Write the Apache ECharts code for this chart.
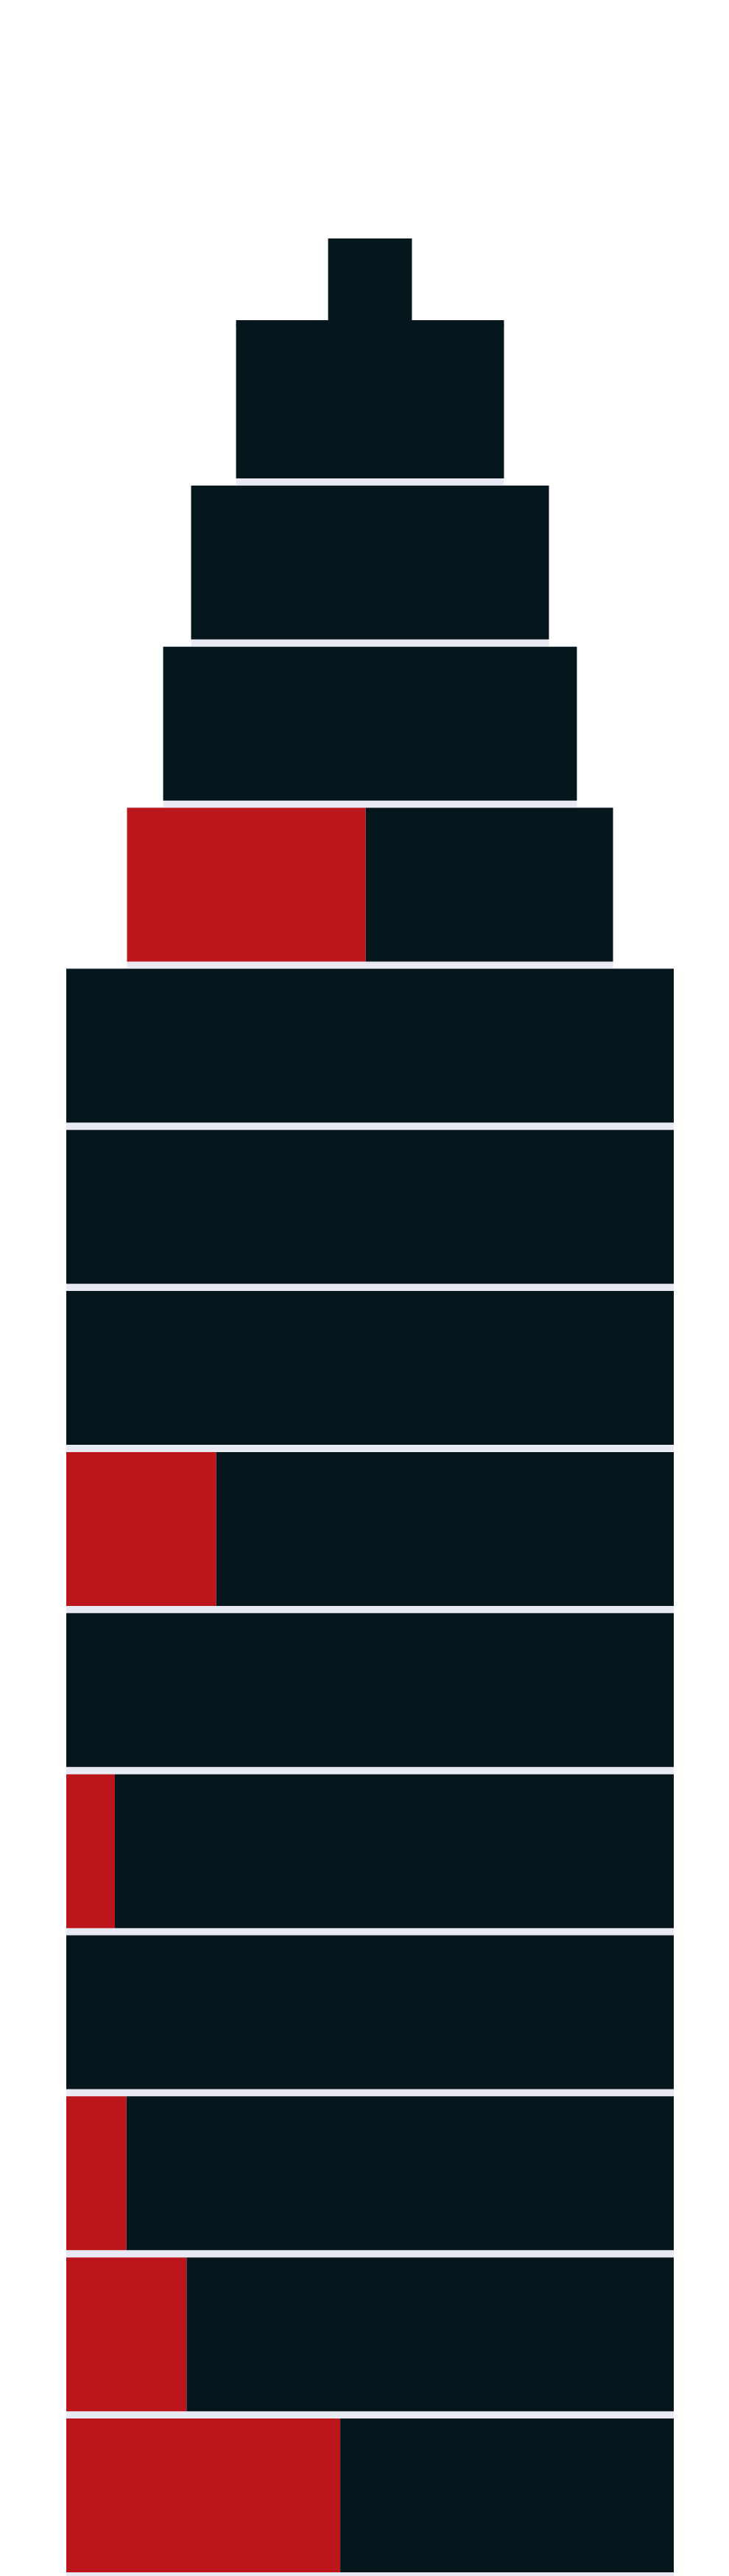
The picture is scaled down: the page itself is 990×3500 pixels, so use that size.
<!DOCTYPE html>
<html>
<head>
<meta charset="utf-8">
<script src="https://cdn.jsdelivr.net/npm/echarts@6/dist/echarts.min.js"></script>
<style>
html,body{margin:0;padding:0;background:#ffffff;}
#chart{width:990px;height:3500px;}
</style>
</head>
<body>
<div id="chart"></div>
<script>
// Floors from top to bottom
const floors = ['Floor 14','Floor 13','Floor 12','Floor 11','Floor 10','Floor 9','Floor 8','Floor 7','Floor 6','Floor 5','Floor 4','Floor 3','Floor 2','Floor 1'];
// Width of each floor (share of the full base width, 0-100)
const floorWidth = [44.1, 58.9, 68.1, 80.0, 100, 100, 100, 100, 100, 100, 100, 100, 100, 100];
// Red (highlighted) part of each floor, same units
const redValue = [0, 0, 0, 39.3, 0, 0, 0, 24.7, 0, 8.0, 0, 9.9, 19.8, 45.1];
// Spire on top of the building
const spireCategory = ['Spire'];
const spireWidth = [13.8];
const fullWidth = 100;

const floorOffset = floorWidth.map(w => (fullWidth - w) / 2);
const darkValue = floorWidth.map((w, i) => w - redValue[i]);
const spireOffset = spireWidth.map(w => (fullWidth - w) / 2);

const DARK = '#05161d';
const RED = '#bc151c';
const STRIP = '#e8e9f2';

const chart = echarts.init(document.getElementById('chart'), null, {renderer: 'canvas'});

const xAx = (gi) => ({type: 'value', gridIndex: gi, min: 0, max: fullWidth, show: false});
const yAx = (gi, data) => ({type: 'category', gridIndex: gi, data: data, inverse: true, show: false});

chart.setOption({
  backgroundColor: '#ffffff',
  animation: false,
  grid: [
    {left: 90, width: 825, top: 436, height: 3066},   // floors
    {left: 90, width: 825, top: 441, height: 3066},   // light strips under each floor
    {left: 90, width: 825, top: 324, height: 111},    // spire
    {left: 90, width: 825, top: 435, height: 7}       // roof edge of the top floor
  ],
  xAxis: [xAx(0), xAx(1), xAx(2), xAx(3)],
  yAxis: [yAx(0, floors), yAx(1, floors), yAx(2, spireCategory), yAx(3, floors.slice(0, 1))],
  series: [
    {type: 'bar', xAxisIndex: 1, yAxisIndex: 1, stack: 'strip', barCategoryGap: 0, z: 1,
     itemStyle: {color: 'transparent'}, data: floorOffset, silent: true},
    {type: 'bar', xAxisIndex: 1, yAxisIndex: 1, stack: 'strip', barCategoryGap: 0, z: 1,
     itemStyle: {color: STRIP}, data: floorWidth, silent: true},

    {type: 'bar', xAxisIndex: 0, yAxisIndex: 0, stack: 'floor', barWidth: 209, z: 2,
     itemStyle: {color: 'transparent'}, data: floorOffset, silent: true},
    {type: 'bar', xAxisIndex: 0, yAxisIndex: 0, stack: 'floor', barWidth: 209, z: 2,
     itemStyle: {color: RED}, data: redValue},
    {type: 'bar', xAxisIndex: 0, yAxisIndex: 0, stack: 'floor', barWidth: 209, z: 2,
     itemStyle: {color: DARK}, data: darkValue},

    {type: 'bar', xAxisIndex: 2, yAxisIndex: 2, stack: 'spire', barCategoryGap: 0, z: 2,
     itemStyle: {color: 'transparent'}, data: spireOffset, silent: true},
    {type: 'bar', xAxisIndex: 2, yAxisIndex: 2, stack: 'spire', barCategoryGap: 0, z: 2,
     itemStyle: {color: DARK}, data: spireWidth},

    {type: 'bar', xAxisIndex: 3, yAxisIndex: 3, stack: 'roof', barCategoryGap: 0, z: 2,
     itemStyle: {color: 'transparent'}, data: floorOffset.slice(0, 1), silent: true},
    {type: 'bar', xAxisIndex: 3, yAxisIndex: 3, stack: 'roof', barCategoryGap: 0, z: 2,
     itemStyle: {color: DARK}, data: floorWidth.slice(0, 1)}
  ]
});
</script>
</body>
</html>
